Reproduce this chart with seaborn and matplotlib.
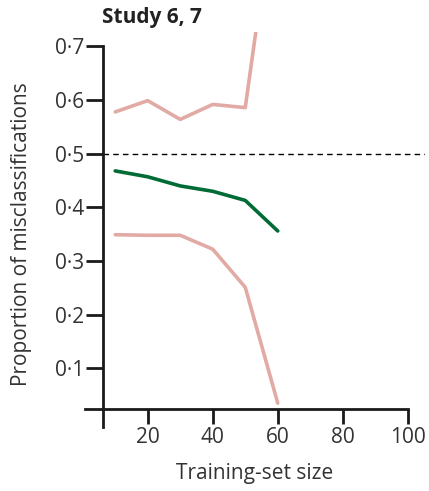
import matplotlib
matplotlib.use("Agg")
import matplotlib.pyplot as plt
import seaborn as sns
import pandas as pd

# Training-set sizes and misclassification proportions
sizes = [10, 20, 30, 40, 50, 60]
mean_err = [0.468, 0.457, 0.440, 0.430, 0.413, 0.356]
upper_err = [0.578, 0.599, 0.564, 0.592, 0.586, 1.02]
lower_err = [0.349, 0.348, 0.348, 0.322, 0.251, 0.035]

y_ticks = [0.1, 0.2, 0.3, 0.4, 0.5, 0.6, 0.7]
y_tick_labels = ["0·1", "0·2", "0·3", "0·4", "0·5", "0·6", "0·7"]
x_ticks = [20, 40, 60, 80, 100]
x_tick_labels = ["20", "40", "60", "80", "100"]

sns.set_style("white")
plt.rcParams["font.family"] = ["Open Sans", "DejaVu Sans"]

PINK = "#e2aaa5"
GREEN = "#006b35"
INK = "#1a1a1a"
TEXT = "#333333"

fig = plt.figure(figsize=(4.29, 4.91), dpi=100)
ax = fig.add_axes([85 / 429, 1 - 427 / 491, 340 / 429, 395 / 491])

df = pd.DataFrame({
    "size": sizes * 3,
    "err": upper_err + lower_err + mean_err,
    "series": ["upper"] * 6 + ["lower"] * 6 + ["mean"] * 6,
})
sns.lineplot(data=df, x="size", y="err", hue="series",
             palette={"upper": PINK, "lower": PINK, "mean": GREEN},
             linewidth=2.6, legend=False, ax=ax, estimator=None)

ax.axhline(0.5, xmin=(6.3 - 0.7) / (105.3 - 0.7), xmax=1,
           color="black", lw=1.0, ls=(0, (4, 3)))

ax.set_xlim(0.7, 105.3)
ax.set_ylim(-0.0095, 0.727)

for s in ["top", "right"]:
    ax.spines[s].set_visible(False)
ax.spines["left"].set_position(("data", 6.3))
ax.spines["left"].set_bounds(-0.0095, 0.7)
ax.spines["bottom"].set_position(("data", 0.024))
ax.spines["bottom"].set_bounds(0.7, 100)
for s in ["left", "bottom"]:
    ax.spines[s].set_linewidth(2.0)
    ax.spines[s].set_color(INK)

ax.set_yticks(y_ticks)
ax.set_yticklabels(y_tick_labels)
ax.set_xticks(x_ticks)
ax.set_xticklabels(x_tick_labels)
ax.tick_params(axis="y", left=True, direction="out", length=12.5, width=2.0,
               color=INK, labelsize=15, pad=1, labelcolor=TEXT)
ax.tick_params(axis="x", bottom=True, direction="out", length=11, width=2.0,
               color=INK, labelsize=15, pad=2, labelcolor=TEXT)
ax.set_xlabel("")
ax.set_ylabel("")

fig.text(255 / 429, 1 - 473 / 491, "Training-set size", ha="center", va="center",
         fontsize=15, color=TEXT)
fig.text(22 / 429, 1 - 234 / 491, "Proportion of misclassifications",
         rotation=90, ha="center", va="center", fontsize=15, color=TEXT)
fig.text(102 / 429, 1 - 17 / 491, "Study 6, 7", ha="left", va="center",
         fontsize=15, fontweight="bold", color="#222222")

fig.savefig("out.png", dpi=100)
